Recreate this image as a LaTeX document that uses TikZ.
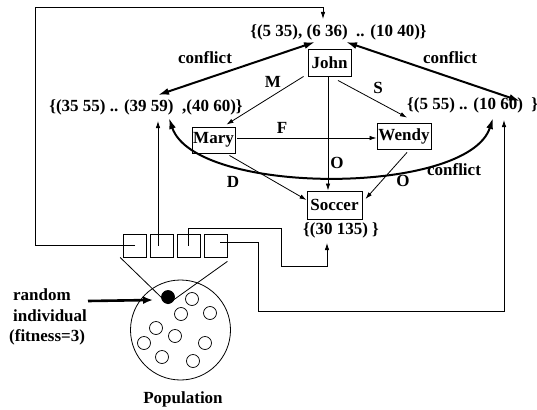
\documentclass[tikz,border=0pt]{standalone}
\usepackage{fontspec}
\setmainfont{Liberation Serif}
\usetikzlibrary{arrows.meta}
\begin{document}
\begin{tikzpicture}[x=1pt,y=-1pt,
  every node/.style={font=\fontsize{17}{20}\selectfont\bfseries},
  lbl/.style={inner sep=0pt},
  box/.style={draw, line width=0.9pt, inner sep=0pt},
  conn/.style={line width=0.8pt},
  arr/.style={conn, -{Latex[length=7pt,width=4.5pt]}},
  confl/.style={line width=2pt, {Latex[length=11pt,width=7pt]}-{Latex[length=11pt,width=7pt]}},
  bigarr/.style={line width=2.6pt, -{Latex[length=10pt,width=8pt]}},
  cell/.style={draw, line width=0.8pt, minimum width=23pt, minimum height=23pt, inner sep=0pt},
  ind/.style={circle, draw, line width=0.7pt, minimum size=13pt, inner sep=0pt}]
\useasboundingbox (0,0) rectangle (537,409);

% labels of value sets
\node[lbl, anchor=base] (topl) at (338.5,37) {\{(5 35), (6 36)\ \ .. (10 40)\}};
\node[lbl, anchor=base] (lset) at (146,111) {\{(35 55) .. (39 59)\ \ ,(40 60)\}};
\node[lbl, anchor=base west] (rset) at (407,110) {\{(5 55) .. (10 60)\ \ \}};
\node[lbl, anchor=base] (sset) at (341,234) {\{(30 135) \}};

% variables
\node[box, minimum width=43pt, minimum height=27pt] (john) at (329.5,62.5) {John};
\node[box, minimum width=43pt, minimum height=26pt] (mary) at (213.5,140) {Mary};
\node[box, minimum width=54pt, minimum height=26pt] (wendy) at (404,136) {Wendy};
\node[box, minimum width=55pt, minimum height=28pt] (soccer) at (334.5,205) {Soccer};

% edge labels
\node[lbl, anchor=base] (cl) at (205,64) {conflict};
\node[lbl, anchor=base] (cr) at (450,64) {conflict};
\node[lbl, anchor=base] (cb) at (454,175) {conflict};
\node[lbl, anchor=base] (lm) at (273,88) {M};
\node[lbl, anchor=base] (ls) at (378,93) {S};
\node[lbl, anchor=base] (lf) at (282,133) {F};
\node[lbl, anchor=base] (lo1) at (337,168) {O};
\node[lbl, anchor=base] (lo2) at (403,186) {O};
\node[lbl, anchor=base] (ld) at (233,187) {D};

% constraint arrows
\draw[arr] ([xshift=-4pt]john.south west) -- ([xshift=-9pt,yshift=2pt]mary.north east);
\draw[arr] ([shift={(8.5pt,-4pt)}]john.south) -- ([shift={(3pt,5pt)}]wendy.north);
\draw[arr] ([shift={(2pt,2pt)}]mary.east) -- ([yshift=-2pt]wendy.west);
\draw[arr] ([xshift=-1.5pt]john.south) -- ([xshift=-1.5pt]john.south |- soccer.north);
\draw[arr] ([shift={(-6pt,-2pt)}]mary.south east) -- ([yshift=5pt]soccer.west);
\draw[arr] ([shift={(3pt,-3pt)}]wendy.south) -- ([shift={(3pt,6pt)}]soccer.east);

% conflict arrows
\coordinate (tA) at (315,42);
\coordinate (tB) at (346,42);
\coordinate (lA) at (158,95);
\coordinate (rA) at (520,101);
\coordinate (lB) at (169,118);
\coordinate (rB) at (493,118);
\draw[confl] (tA) -- (lA);
\draw[confl] (tB) -- (rA);
\draw[confl] (lB) .. controls (195,196) and (468,196) .. (rB);

% chromosome cells
\node[cell] (c1) at (135,245.5) {};
\node[cell] (c2) at (161.5,245.5) {};
\node[cell] (c3) at (188.5,245.5) {};
\node[cell] (c4) at (215.5,245.5) {};

% cell connectors
\coordinate (loopTL) at (35,7);
\coordinate (topin) at (323,19);
\draw[arr] (c1.center) -| (loopTL) -| (topin);
\coordinate (lsetin) at (158,121);
\draw[arr] (lsetin |- c2.center) -- (lsetin);
\coordinate (c3a) at (281,228);
\coordinate (c3b) at (327,266);
\coordinate (ssetin) at (327,243);
\draw[arr] (c3.center) |- (c3a) |- (c3b) -- (ssetin);
\coordinate (c4a) at (258,311);
\coordinate (rsetin) at (504,120);
\draw[arr] ([shift={(4.5pt,3.5pt)}]c4.center) -| (c4a) -| (rsetin);

% population
\node[circle, draw, line width=0.8pt, minimum size=100pt, inner sep=0pt] (pop) at (180.5,330) {};
\node[ind, fill=black] (dot) at (168,297) {};
\node[ind] (i1) at (192,299) {};
\node[ind] (i2) at (181,314) {};
\node[ind] (i3) at (210,313) {};
\node[ind] (i4) at (156,328) {};
\node[ind] (i5) at (175,336) {};
\node[ind] (i6) at (144,343) {};
\node[ind] (i7) at (205,343) {};
\node[ind] (i8) at (162,357) {};
\node[ind] (i9) at (193,361) {};
\draw[conn] ([xshift=-3pt]c1.south west) -- (dot.south);
\draw[conn] ([yshift=-4pt]c4.south east) -- (dot.south);

\node[lbl, anchor=base west] (r1) at (13,300) {random};
\node[lbl, anchor=base west] (r2) at (13,321) {individual};
\node[lbl, anchor=base west] (r3) at (9,341) {(fitness=3)};
\coordinate (arrS) at (88,301);
\coordinate (arrE) at (153,300);
\draw[bigarr] (arrS) -- (arrE);
\node[lbl, anchor=base] (poplbl) at (183,403) {Population};
\end{tikzpicture}
\end{document}
